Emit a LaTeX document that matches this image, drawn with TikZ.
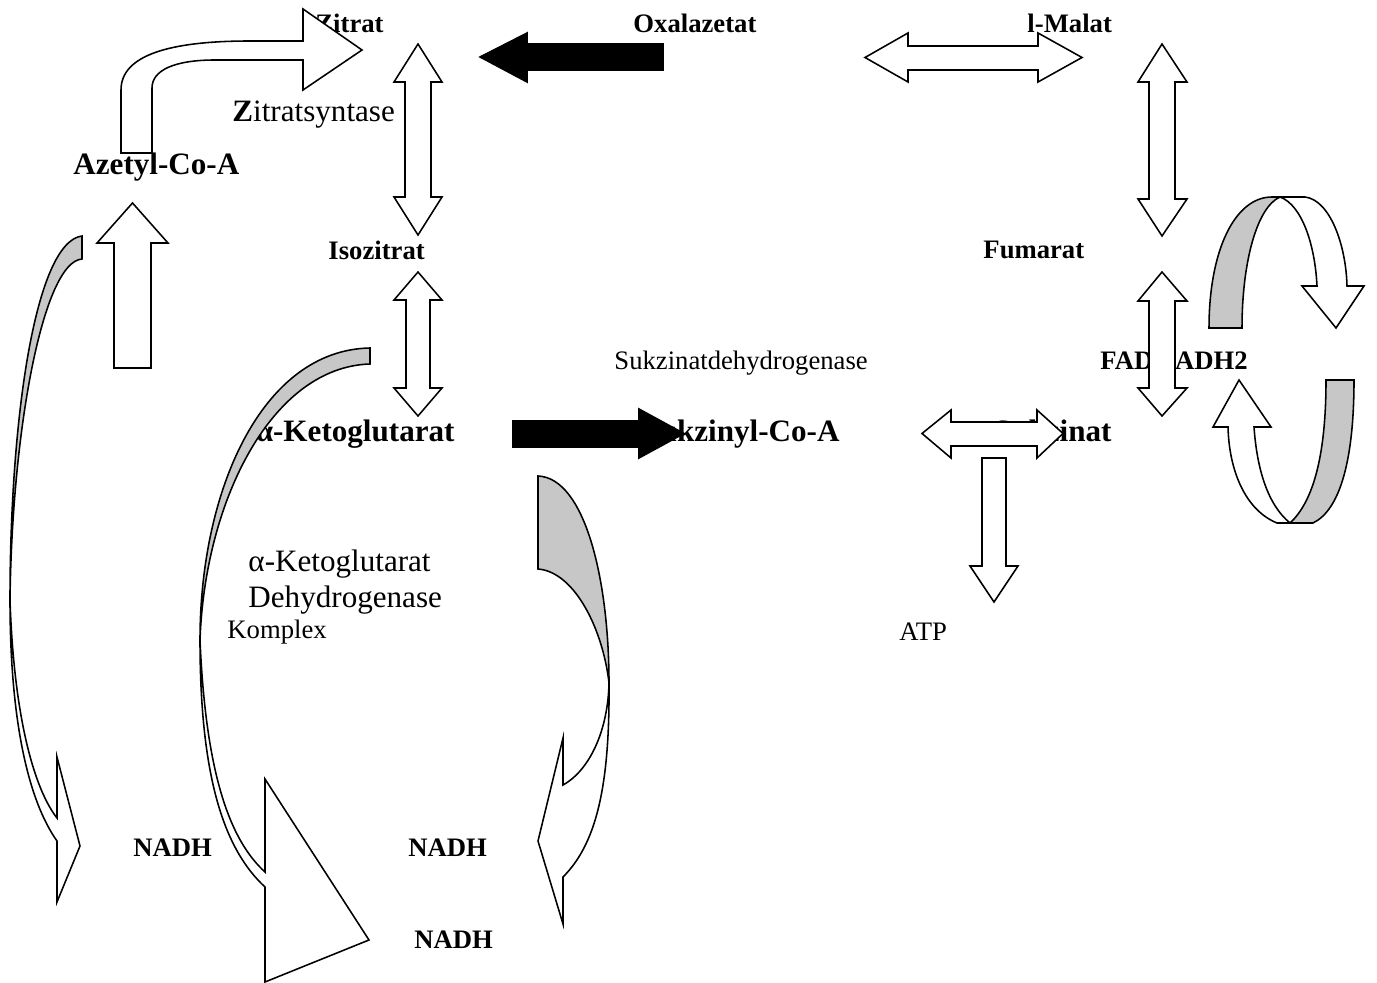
\documentclass[tikz,border=0pt]{standalone}
\usepackage{fontspec}
\setmainfont{Liberation Serif}
\definecolor{bandgrey}{gray}{0.78}
\tikzset{
  outline/.style={draw=black, line width=0.7pt, line join=miter, miter limit=10},
  hollow/.style={outline, fill=white},
  backside/.style={outline, fill=bandgrey},
  solidarrow/.style={fill=black, draw=black, line width=0.7pt},
  lbl/.style={inner sep=0pt, anchor=base west, font=\fontsize{12}{14}\selectfont\bfseries},
  biglbl/.style={inner sep=0pt, anchor=base west, font=\fontsize{14}{16}\selectfont\bfseries},
  note/.style={inner sep=0pt, anchor=base west, font=\fontsize{12}{14}\selectfont},
  bignote/.style={inner sep=0pt, anchor=base west, font=\fontsize{14}{16}\selectfont},
}
\begin{document}
\begin{tikzpicture}[x=0.45pt, y=-0.45pt]
\useasboundingbox (0,0) rectangle (1377,983);

% ---------- labels (drawn first, the block arrows lie on top) ----------
\node[lbl] (zitrat) at (315,33) {Zitrat};
\node[lbl] (oxal) at (633,33) {Oxalazetat};
\node[lbl] (malat) at (1027,33) {l-Malat};
\node[bignote] (zsyn) at (232,122) {\textbf{Z}itratsyntase};
\node[biglbl] (azetyl) at (73,175) {Azetyl-Co-A};
\node[lbl] (isoz) at (328,260) {Isozitrat};
\node[lbl] (fumarat) at (983,259) {Fumarat};
\node[note] (sdh) at (614,370) {Sukzinatdehydrogenase};
\node[lbl] (fad) at (1100,370) {FAD/FADH2};
\node[biglbl, anchor=base east] (akg) at (455,442) {α-Ketoglutarat};
\node[biglbl, anchor=base east] (sukcoa) at (840,442) {Sukzinyl-Co-A};
\node[biglbl, anchor=base east] (sukz) at (1112,442) {Sukzinat};
\node[bignote] (akgdh1) at (248,572) {α-Ketoglutarat};
\node[bignote] (akgdh2) at (248,608) {Dehydrogenase};
\node[note] (kompl) at (227,639) {Komplex};
\node[note] (atp) at (899,641) {ATP};
\node[lbl] (nadh1) at (133,856) {NADH};
\node[lbl] (nadh2) at (408,856) {NADH};
\node[lbl] (nadh3) at (414,948) {NADH};

% ---------- Azetyl-Co-A -> Zitrat (bent arrow) ----------
\draw[hollow] (121,153) -- (121,90) .. controls (121,55) and (170,41) .. (250,41)
  -- (303,41) -- (303,9) -- (362,50) -- (303,90) -- (303,60) -- (215,60)
  .. controls (175,60) and (152,70) .. (152,88) -- (152,153) -- cycle;

% ---------- up arrow into Azetyl-Co-A ----------
\draw[hollow] (114,368) -- (114,243) -- (97,243) -- (132.5,203) -- (168,243)
  -- (151,243) -- (151,368) -- cycle;

% ---------- Zitrat <-> Isozitrat <-> alpha-Ketoglutarat ----------
\draw[hollow] (418,44) -- (442,82) -- (431,82) -- (431,197) -- (442,197) -- (418,235)
  -- (394,197) -- (405,197) -- (405,82) -- (394,82) -- cycle;
\draw[hollow] (418,272) -- (442,300) -- (430,300) -- (430,388) -- (442,388) -- (418,416)
  -- (394,388) -- (406,388) -- (406,300) -- (394,300) -- cycle;

% ---------- Oxalazetat -> Zitrat (solid) ----------
\draw[solidarrow] (480,57) -- (527,33) -- (527,44) -- (663,44) -- (663,70) -- (527,70)
  -- (527,82) -- cycle;

% ---------- Oxalazetat <-> l-Malat ----------
\draw[hollow] (865,57.5) -- (908,33) -- (908,46) -- (1038,46) -- (1038,33) -- (1082,57.5)
  -- (1038,82) -- (1038,70) -- (908,70) -- (908,82) -- cycle;

% ---------- l-Malat <-> Fumarat <-> Sukzinat ----------
\draw[hollow] (1162,44) -- (1187,82) -- (1175,82) -- (1175,199) -- (1187,199) -- (1162,236)
  -- (1138,199) -- (1149,199) -- (1149,82) -- (1138,82) -- cycle;
\draw[hollow] (1162,272) -- (1187,301) -- (1175,301) -- (1175,388) -- (1187,388) -- (1162,416)
  -- (1138,388) -- (1149,388) -- (1149,301) -- (1138,301) -- cycle;

% ---------- alpha-Ketoglutarat -> Sukzinyl-Co-A (solid) ----------
\draw[solidarrow] (513,421) -- (639,421) -- (639,409) -- (684,433.5) -- (639,458)
  -- (639,447) -- (513,447) -- cycle;

% ---------- Sukzinyl-Co-A <-> Sukzinat, ATP ----------
\draw[hollow] (922,433.5) -- (951,410) -- (951,422) -- (1037,422) -- (1037,410) -- (1063,433.5)
  -- (1037,458) -- (1037,446) -- (951,446) -- (951,458) -- cycle;
\draw[hollow] (982,458) -- (1006,458) -- (1006,566) -- (1018,566) -- (994,602) -- (970,566)
  -- (982,566) -- cycle;

% ---------- FAD / FADH2 circular arrows ----------
\draw[backside] (1209,328) .. controls (1209,250) and (1235,197) .. (1272,197) -- (1280,197)
  .. controls (1257,207) and (1242,262) .. (1242,328) -- cycle;
\draw[hollow] (1280,197) -- (1305,197) .. controls (1330,200) and (1346,245) .. (1347,286)
  -- (1364,286) -- (1336,328) -- (1302,286) -- (1317,286)
  .. controls (1315,245) and (1302,205) .. (1280,197) -- cycle;
\draw[backside] (1326,380) -- (1354,380) .. controls (1354,460) and (1340,510) .. (1313,523)
  -- (1290,523) .. controls (1315,500) and (1326,450) .. (1326,380) -- cycle;
\draw[hollow] (1290,523) -- (1277,523) .. controls (1245,510) and (1229,470) .. (1228,427)
  -- (1213,427) -- (1239,380) -- (1271,427) -- (1254,427)
  .. controls (1257,470) and (1268,505) .. (1290,523) -- cycle;

% ---------- NADH curved arrows ----------
% left
\draw[backside] (82,236) .. controls (35,242) and (10,420) .. (10,600)
  .. controls (12,430) and (43,262) .. (82,259) -- cycle;
\draw[hollow] (10,600) .. controls (10,720) and (28,800) .. (57,841) -- (57,902) -- (80,846)
  -- (57,757) -- (57,818) .. controls (35,790) and (14,720) .. (10,600) -- cycle;
% middle
\draw[backside] (370,348) .. controls (262,350) and (200,490) .. (200,640)
  .. controls (205,500) and (272,367) .. (370,364) -- cycle;
\draw[hollow] (200,640) .. controls (200,780) and (225,850) .. (265,887) -- (265,982) -- (369,940)
  -- (265,779) -- (265,872) .. controls (232,842) and (206,780) .. (200,640) -- cycle;
% right
\draw[backside] (538,476) .. controls (585,478) and (609,580) .. (609,683)
  .. controls (603,630) and (575,572) .. (538,569) -- cycle;
\draw[hollow] (609,683) .. controls (610,790) and (595,845) .. (563,877) -- (563,924) -- (538,841)
  -- (563,738) -- (563,785) .. controls (590,770) and (608,730) .. (609,683) -- cycle;
\end{tikzpicture}
\end{document}
